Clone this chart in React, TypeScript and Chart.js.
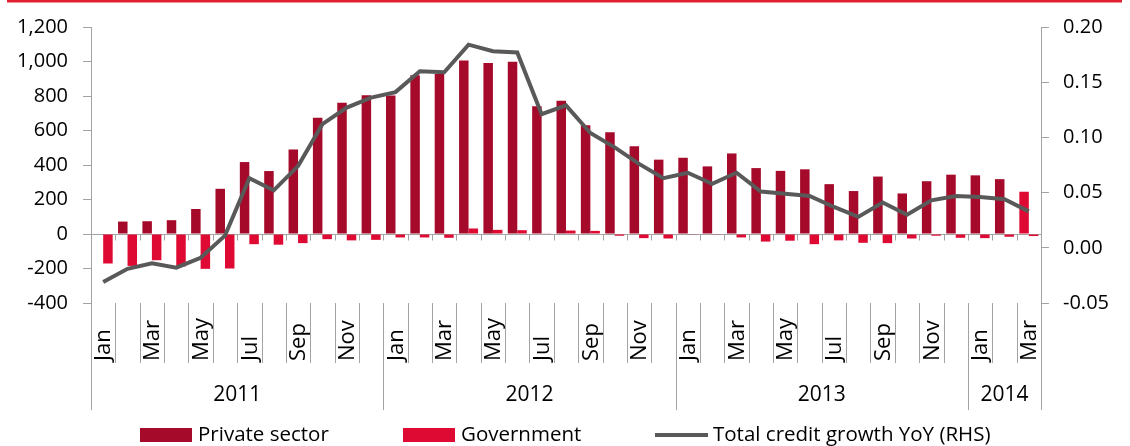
import React, { useEffect, useRef } from "react";
import { Chart, registerables } from "chart.js";

Chart.register(...registerables);

const monthLabels = [
  "Jan", "Feb", "Mar", "Apr", "May", "Jun", "Jul", "Aug", "Sep", "Oct", "Nov", "Dec",
  "Jan", "Feb", "Mar", "Apr", "May", "Jun", "Jul", "Aug", "Sep", "Oct", "Nov", "Dec",
  "Jan", "Feb", "Mar", "Apr", "May", "Jun", "Jul", "Aug", "Sep", "Oct", "Nov", "Dec",
  "Jan", "Feb", "Mar",
];
const yearLabels = ["2011", "2012", "2013", "2014"];
const yearSpans = [12, 12, 12, 3];

const privateSector = [
  -3, 72, 74, 80, 145, 262, 417, 365, 490, 674, 761, 805,
  803, 920, 928, 1006, 991, 998, 741, 772, 630, 590, 509, 431,
  442, 392, 467, 382, 366, 375, 289, 249, 333, 235, 306, 344,
  340, 318, 245,
];
const government = [
  -171, -185, -152, -188, -202, -200, -59, -62, -53, -30, -37, -34,
  -20, -20, -22, 32, 24, 22, 2, 20, 18, -10, -24, -26,
  -2, -2, -20, -44, -39, -59, -37, -51, -53, -26, -10, -22,
  -24, -16, -12,
];
const creditGrowth = [
  -0.031, -0.019, -0.014, -0.018, -0.009, 0.011, 0.063, 0.052, 0.074, 0.112, 0.127, 0.136,
  0.141, 0.160, 0.159, 0.184, 0.178, 0.177, 0.121, 0.129, 0.104, 0.091, 0.076, 0.063,
  0.068, 0.058, 0.068, 0.051, 0.049, 0.047, 0.037, 0.028, 0.041, 0.030, 0.043, 0.047,
  0.046, 0.044, 0.033,
];

const leftMin = -400;
const leftMax = 1200;
const leftStep = 200;
const rightMin = -0.05;
const rightMax = 0.2;
const rightStep = 0.05;

const seriesNames = ["Private sector", "Government", "Total credit growth YoY (RHS)"];

const PRIVATE = "#A50A2B";
const GOV = "#DF0A33";
const LINE = "#595959";
const AXIS = "#A3A3A3";
const TOPBAR = "#E0202E";
const FONT = "'Open Sans', Lato, sans-serif";

const decorPlugin = {
  id: "decor",
  beforeDatasetsDraw(chart: any) {
    const { ctx, chartArea, scales } = chart;
    const xs = scales.x;
    const y0 = Math.round(scales.y.getPixelForValue(0)) + 0.5;
    const n = monthLabels.length;
    const w = (chartArea.right - chartArea.left) / n;
    ctx.save();
    ctx.strokeStyle = AXIS;
    ctx.lineWidth = 1;
    ctx.beginPath();
    ctx.moveTo(chartArea.left, y0);
    ctx.lineTo(chartArea.right, y0);
    for (let i = 1; i < n; i++) {
      const bx = Math.round(xs.getPixelForValue(i) - w / 2) + 0.5;
      ctx.moveTo(bx, y0);
      ctx.lineTo(bx, y0 + 6);
    }
    ctx.stroke();
    ctx.restore();
  },
  afterDraw(chart: any) {
    const { ctx, chartArea, scales } = chart;
    const xs = scales.x;
    const n = monthLabels.length;
    const w = (chartArea.right - chartArea.left) / n;
    const bottom = chartArea.bottom;
    ctx.save();
    // top red rule
    ctx.fillStyle = TOPBAR;
    ctx.fillRect(7, 0, 1115, 2.5);

    // separators in the category label area
    ctx.strokeStyle = AXIS;
    ctx.lineWidth = 1;
    ctx.beginPath();
    const yearBounds = new Set<number>();
    let acc = 0;
    yearBounds.add(0);
    yearSpans.forEach((s) => {
      acc += s;
      yearBounds.add(acc);
    });
    for (let i = 0; i <= n; i++) {
      const bx = Math.round(i < n ? xs.getPixelForValue(i) - w / 2 : xs.getPixelForValue(n - 1) + w / 2) + 0.5;
      const endY = yearBounds.has(i) ? 410 : 363;
      ctx.moveTo(bx, bottom);
      ctx.lineTo(bx, endY);
    }
    ctx.stroke();

    // month labels (every other)
    ctx.fillStyle = "#000";
    ctx.font = `22px ${FONT}`;
    ctx.textAlign = "left";
    ctx.textBaseline = "middle";
    for (let i = 0; i < n; i += 2) {
      const cx = xs.getPixelForValue(i) + 1;
      ctx.save();
      ctx.translate(cx, 361);
      ctx.rotate(-Math.PI / 2);
      ctx.fillText(monthLabels[i], 0, 0);
      ctx.restore();
    }

    // year labels
    ctx.font = `21px ${FONT}`;
    ctx.textAlign = "center";
    let start = 0;
    yearSpans.forEach((s, k) => {
      const x1 = xs.getPixelForValue(start) - w / 2;
      const x2 = xs.getPixelForValue(start + s - 1) + w / 2;
      ctx.fillText(yearLabels[k], (x1 + x2) / 2, 395);
      start += s;
    });

    // legend
    const ly = 435;
    ctx.font = `20.5px ${FONT}`;
    ctx.textAlign = "left";
    ctx.fillStyle = PRIVATE;
    ctx.fillRect(140, ly - 7, 52, 14);
    ctx.fillStyle = "#000";
    ctx.fillText(seriesNames[0], 198, ly);
    ctx.fillStyle = GOV;
    ctx.fillRect(403, ly - 7, 52, 14);
    ctx.fillStyle = "#000";
    ctx.fillText(seriesNames[1], 461, ly);
    ctx.strokeStyle = LINE;
    ctx.lineWidth = 4;
    ctx.beginPath();
    ctx.moveTo(655, ly);
    ctx.lineTo(708, ly);
    ctx.stroke();
    ctx.fillText(seriesNames[2], 713, ly);
    ctx.restore();
  },
};

export default function App() {
  const canvasRef = useRef<HTMLCanvasElement | null>(null);

  useEffect(() => {
    document.body.style.margin = "0";
    const canvas = canvasRef.current;
    if (!canvas) return;
    const privateColors = privateSector.map((_, i) => (i === privateSector.length - 1 ? GOV : PRIVATE));
    const chart = new Chart(canvas, {
      type: "bar",
      data: {
        labels: monthLabels,
        datasets: [
          {
            type: "line",
            label: seriesNames[2],
            data: creditGrowth,
            yAxisID: "y1",
            borderColor: LINE,
            borderWidth: 4,
            pointRadius: 0,
            tension: 0,
            order: 0,
          } as any,
          {
            type: "bar",
            label: seriesNames[0],
            data: privateSector,
            yAxisID: "y",
            backgroundColor: privateColors,
            categoryPercentage: 0.78,
            barPercentage: 1.0,
            order: 1,
          },
          {
            type: "bar",
            label: seriesNames[1],
            data: government,
            yAxisID: "y",
            backgroundColor: GOV,
            categoryPercentage: 0.78,
            barPercentage: 1.0,
            order: 1,
          },
        ],
      },
      options: {
        animation: false,
        responsive: false,
        maintainAspectRatio: false,
        layout: { padding: { top: 13, left: 0, right: 0, bottom: 0 } },
        plugins: { legend: { display: false }, tooltip: { enabled: false } },
        scales: {
          x: {
            display: true,
            grid: { display: false },
            border: { display: false },
            ticks: { display: false },
            afterFit: (s: any) => {
              s.height = 143;
            },
          },
          y: {
            position: "left",
            min: leftMin,
            max: leftMax,
            grid: { drawOnChartArea: false, drawTicks: true, tickLength: 8, color: AXIS },
            border: { display: true, color: AXIS },
            ticks: {
              stepSize: leftStep,
              padding: 15,
              color: "#000",
              font: { family: FONT, size: 20 },
              callback: (v: any) => Number(v).toLocaleString("en-US"),
            },
            afterFit: (s: any) => {
              s.width = 91;
            },
          },
          y1: {
            position: "right",
            min: rightMin,
            max: rightMax,
            grid: { drawOnChartArea: false, drawTicks: true, tickLength: 8, color: AXIS },
            border: { display: true, color: AXIS },
            ticks: {
              stepSize: rightStep,
              padding: 14,
              color: "#000",
              font: { family: FONT, size: 20 },
              callback: (v: any) => Number(v).toFixed(2),
            },
            afterFit: (s: any) => {
              s.width = 89;
            },
          },
        },
      },
      plugins: [decorPlugin],
    });
    return () => chart.destroy();
  }, []);

  return (
    <div style={{ width: 1130, height: 446, position: "relative" }}>
      <canvas ref={canvasRef} width={1130} height={446} style={{ display: "block" }} />
    </div>
  );
}
